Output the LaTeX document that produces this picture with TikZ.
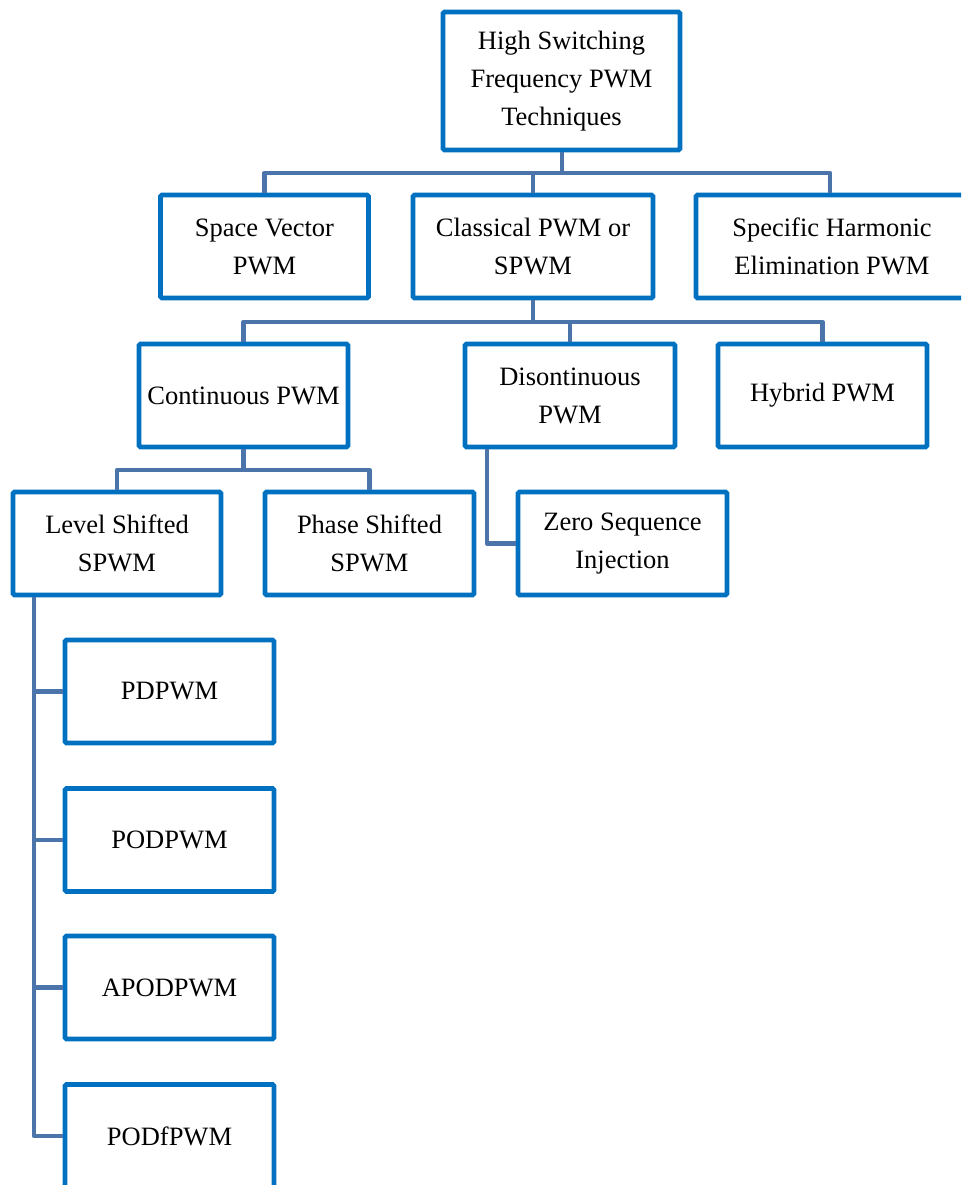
\documentclass[tikz,border=0pt]{standalone}
\usepackage{fontspec}
\setmainfont{Liberation Serif}
\definecolor{boxblue}{HTML}{0070C0}
\definecolor{linkblue}{HTML}{4A74AA}
\begin{document}
\begin{tikzpicture}[x=1pt,y=-1pt,
  box/.style={draw=boxblue, line width=4.8pt, rounded corners=1.5pt, fill=white,
    minimum height=103pt, inner sep=0pt, align=center, text=black,
    font=\fontsize{26.5}{38}\selectfont},
  link/.style={draw=linkblue, line width=4.8pt, line join=round, line cap=butt}]
\useasboundingbox (0,0) rectangle (961,1185);
\clip (0,0) rectangle (961,1185);

% bus levels
\coordinate (b1) at (0,173);
\coordinate (b2) at (0,322);
\coordinate (b3) at (0,470);

% fixed x positions of the off-centre risers
\coordinate (topfoot) at (562,150);
\coordinate (trunk) at (34,594);
\coordinate (disfoot) at (487,447);

% boxes
\node[box, minimum width=237pt, minimum height=138pt] (top) at (561.5,81)
  {High Switching\\ Frequency PWM\\Techniques};

\node[box, minimum width=208pt] (sv)  at (264.5,246.5) {Space Vector\\PWM};
\node[box, minimum width=240pt] (cl)  at (533,246.5)   {Classical PWM or\\SPWM};
\node[box, minimum width=272pt] (she) at (832,246.5)   {Specific Harmonic\\Elimination PWM};

\node[box, minimum width=209pt] (cont) at (243.5,395.5) {Continuous PWM};
\node[box, minimum width=210pt] (dis)  at (570,395.5)   {Disontinuous\\PWM};
\node[box, minimum width=209pt] (hyb)  at (822.5,395.5) {Hybrid PWM};

\node[box, minimum width=208pt] (ls) at (117,543.5)   {Level Shifted\\SPWM};
\node[box, minimum width=209pt] (ps) at (369.5,543.5) {Phase Shifted\\SPWM};
\node[box, minimum width=209pt] (zs) at (622.5,543.5) {Zero Sequence\\Injection};

\node[box, minimum width=209pt] (pd)   at (169.5,691.5)  {PDPWM};
\node[box, minimum width=209pt] (pod)  at (169.5,840)    {PODPWM};
\node[box, minimum width=209pt] (apod) at (169.5,987.5)  {APODPWM};
\node[box, minimum width=209pt] (podf) at (169.5,1136)   {PODfPWM};

% first level
\draw[link] (top.south -| topfoot) -- (topfoot |- b1);
\draw[link] (sv.north) |- ([xshift=-2pt]she.north |- b1) -- ([xshift=-2pt]she.north);
\draw[link] (cl.north) -- (cl.north |- b1);

% second level
\draw[link] (cl.south) -- (cl.south |- b2);
\draw[link] (cont.north) |- (hyb.north |- b2) -- (hyb.north);
\draw[link] (dis.north) -- (dis.north |- b2);

% third level
\draw[link] (cont.south) -- (cont.south |- b3);
\draw[link] (ls.north) |- (ps.north |- b3) -- (ps.north);
\draw[link] (dis.south -| disfoot) |- (zs.west);

% carrier arrangements
\draw[link] (ls.south -| trunk) |- (podf.west);
\draw[link] (pd.west -| trunk) -- (pd.west);
\draw[link] (pod.west -| trunk) -- (pod.west);
\draw[link] (apod.west -| trunk) -- (apod.west);
\end{tikzpicture}
\end{document}
